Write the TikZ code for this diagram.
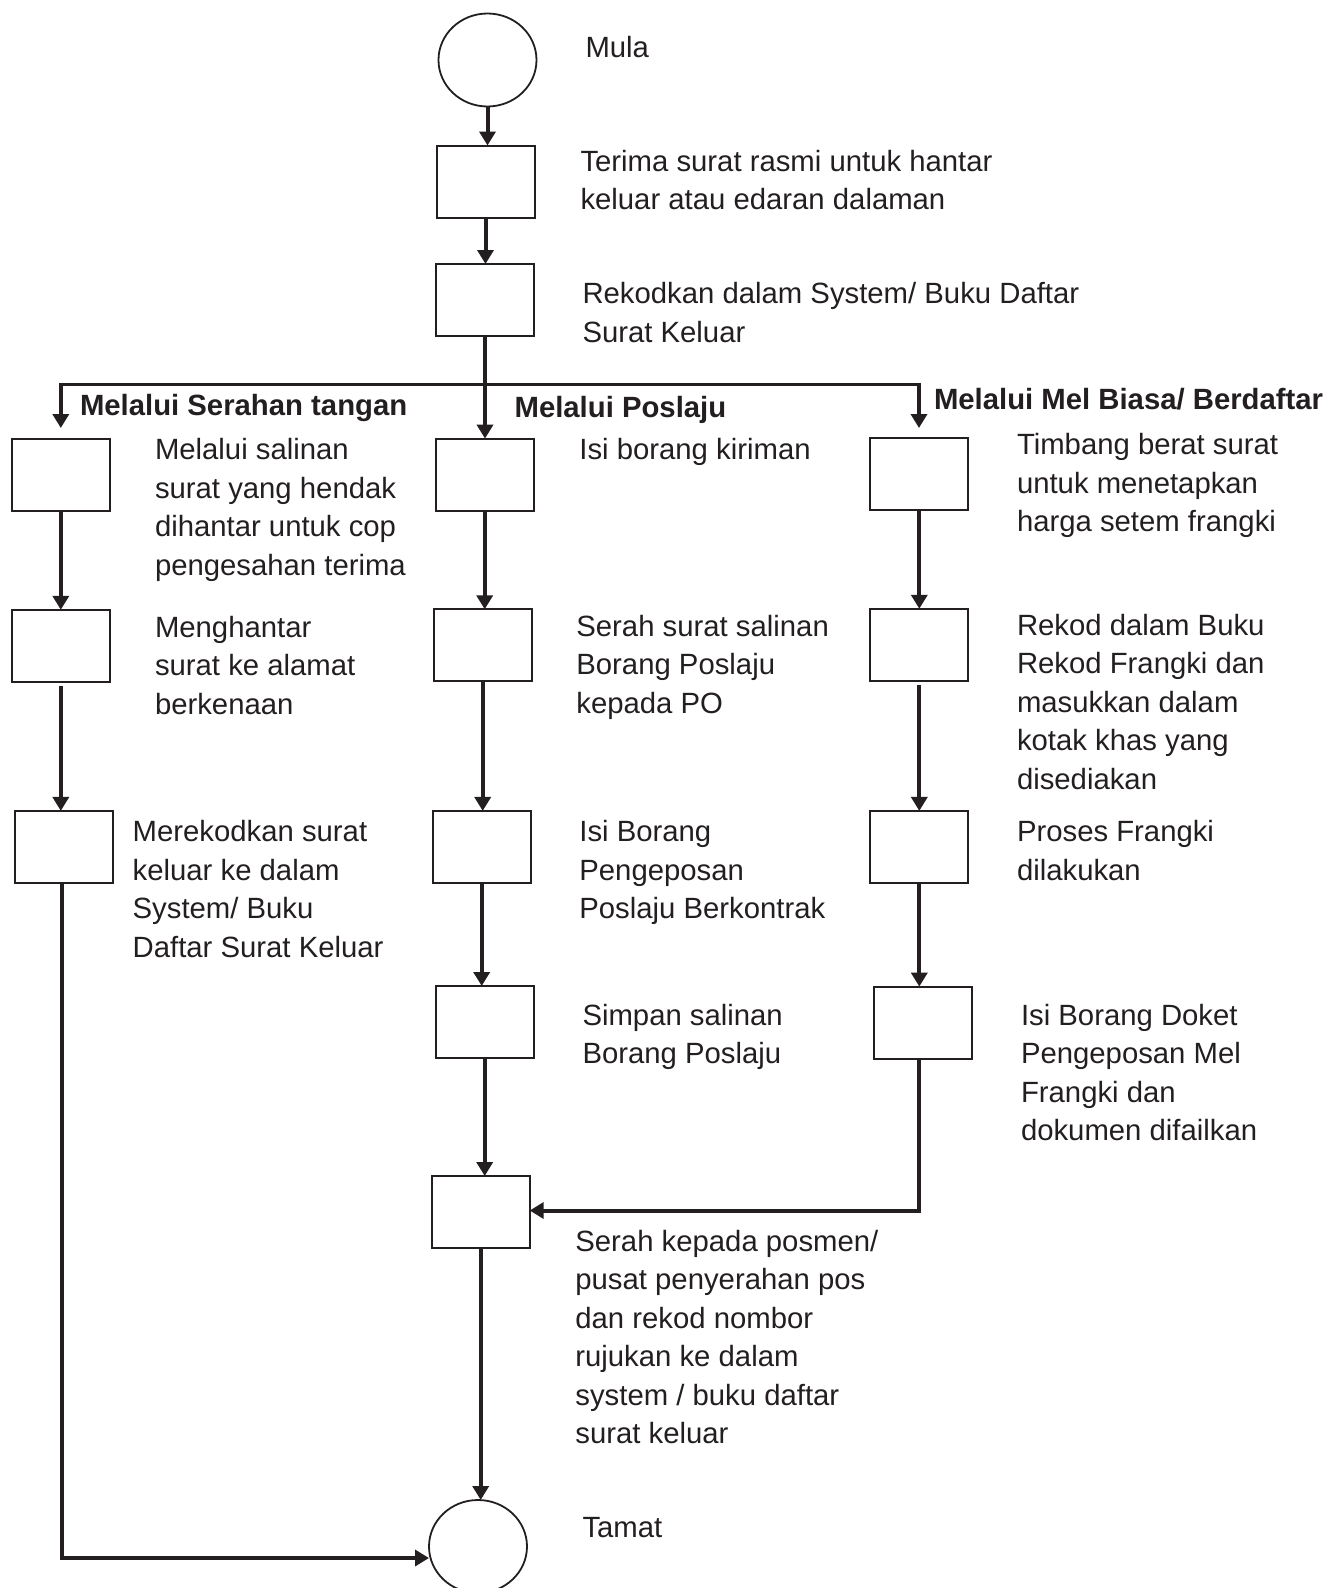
\documentclass[tikz,border=0pt]{standalone}
\usepackage{fontspec}
\setmainfont{Liberation Sans}
\usetikzlibrary{arrows.meta,shapes.geometric}
\definecolor{ink}{RGB}{35,31,32}
\begin{document}
\begin{tikzpicture}[x=1pt,y=-1pt,
  every node/.style={inner sep=0pt, outer sep=0pt},
  box/.style={draw=ink, line width=2pt, minimum width=98pt, minimum height=72pt},
  term/.style={draw=ink, line width=1.8pt, ellipse, minimum width=98pt, minimum height=93pt},
  lbl/.style={anchor=north west, align=left, text=ink, font=\fontsize{29.3}{38.5}\selectfont},
  blbl/.style={lbl, font=\fontsize{29.3}{38.5}\selectfont\bfseries},
  conn/.style={draw=ink, line width=4pt},
  arr/.style={conn, -{Triangle[length=14pt,width=16pt]}}
]
\useasboundingbox (0,0) rectangle (1325,1588);
% terminals
\node[term] (start) at (487.5,60) {};
\node[term] (end) at (478,1546.5) {};
% boxes
\node[box] (b1) at (485.5,181.5) {};
\node[box] (b2) at (485,300) {};
\node[box] (l1) at (60.8,474.6) {};
\node[box] (l2) at (60.8,645.8) {};
\node[box] (l3) at (63.8,846.9) {};
\node[box] (m1) at (484.7,474.6) {};
\node[box] (m2) at (482.7,645.3) {};
\node[box] (m3) at (481.7,846.9) {};
\node[box] (m4) at (484.7,1022) {};
\node[box] (m5) at (480.7,1212) {};
\node[box] (r1) at (919.3,473.6) {};
\node[box] (r2) at (919.3,644.8) {};
\node[box] (r3) at (919.3,846.9) {};
\node[box] (r4) at (923.3,1022.6) {};
% labels
\node[lbl] (tmula) at (585.5,36) {Mula};
\node[lbl] (t1) at (580.5,150) {Terima surat rasmi untuk hantar\\keluar atau edaran dalaman};
\node[lbl] (t2) at (582.5,282.5) {Rekodkan dalam System/ Buku Daftar\\Surat Keluar};
\node[blbl] (hl) at (80,394) {Melalui Serahan tangan};
\node[blbl] (hm) at (514.6,396) {Melalui Poslaju};
\node[blbl] (hr) at (934,388) {Melalui Mel Biasa/ Berdaftar};
\node[lbl] (tl1) at (155,438.6) {Melalui salinan\\surat yang hendak\\dihantar untuk cop\\pengesahan terima};
\node[lbl] (tl2) at (155,616) {Menghantar\\surat ke alamat\\berkenaan};
\node[lbl] (tl3) at (132.7,820.5) {Merekodkan surat\\keluar ke dalam\\System/ Buku\\Daftar Surat Keluar};
\node[lbl] (tm1) at (579.4,438.6) {Isi borang kiriman};
\node[lbl] (tm2) at (576.4,615) {Serah surat salinan\\Borang Poslaju\\kepada PO};
\node[lbl] (tm3) at (579.4,820.5) {Isi Borang\\Pengeposan\\Poslaju Berkontrak};
\node[lbl] (tm4) at (582.5,1004) {Simpan salinan\\Borang Poslaju};
\node[lbl] (tm5) at (575.4,1230) {Serah kepada posmen/\\pusat penyerahan pos\\dan rekod nombor\\rujukan ke dalam\\system / buku daftar\\surat keluar};
\node[lbl] (ttamat) at (582.5,1517.5) {Tamat};
\node[lbl] (tr1) at (1017,433.6) {Timbang berat surat\\untuk menetapkan\\harga setem frangki};
\node[lbl] (tr2) at (1017,614) {Rekod dalam Buku\\Rekod Frangki dan\\masukkan dalam\\kotak khas yang\\disediakan};
\node[lbl] (tr3) at (1017,820.5) {Proses Frangki\\dilakukan};
\node[lbl] (tr4) at (1021,1004) {Isi Borang Doket\\Pengeposan Mel\\Frangki dan\\dokumen difailkan};
% connector points
\coordinate (lsplit) at (60.8,384);
\coordinate (rsplit) at (919,384);
\coordinate (ltip) at (60.8,428);
\coordinate (rtip) at (919,428);
\coordinate (lcorner) at (62,1558);
\coordinate (rcorner) at (919,1210.5);
% connectors
\draw[arr] (start.south) -- (start.south |- b1.north);
\draw[arr] (b1.south) -- (b1.south |- b2.north);
\draw[arr] (b2.south) -- (b2.south |- m1.north);
\draw[conn, line width=3pt, line cap=rect] (lsplit) -- (rsplit);
\draw[arr] (lsplit) -- (ltip);
\draw[arr] (rsplit) -- (rtip);
\draw[arr] (l1.south) -- (l1.south |- l2.north);
\draw[arr] (l2.south) ++(0,4) -- (l2.south |- l3.north);
\draw[arr] (l3.south -| lcorner) -- (lcorner) -- (lcorner -| end.west);
\draw[arr] (m1.south) -- (m1.south |- m2.north);
\draw[arr] (m2.south) -- (m2.south |- m3.north);
\draw[arr] (m3.south) -- (m3.south |- m4.north);
\draw[arr] (m4.south) -- (m4.south |- m5.north);
\draw[arr] (m5.south) -- (m5.south |- end.north);
\draw[arr] (r1.south) -- (r1.south |- r2.north);
\draw[arr] (r2.south) ++(0,4) -- (r2.south |- r3.north);
\draw[arr] (r3.south) -- (r3.south |- r4.north);
\draw[arr] (r4.south -| rcorner) -- (rcorner) -- (rcorner -| m5.east);
\end{tikzpicture}
\end{document}
